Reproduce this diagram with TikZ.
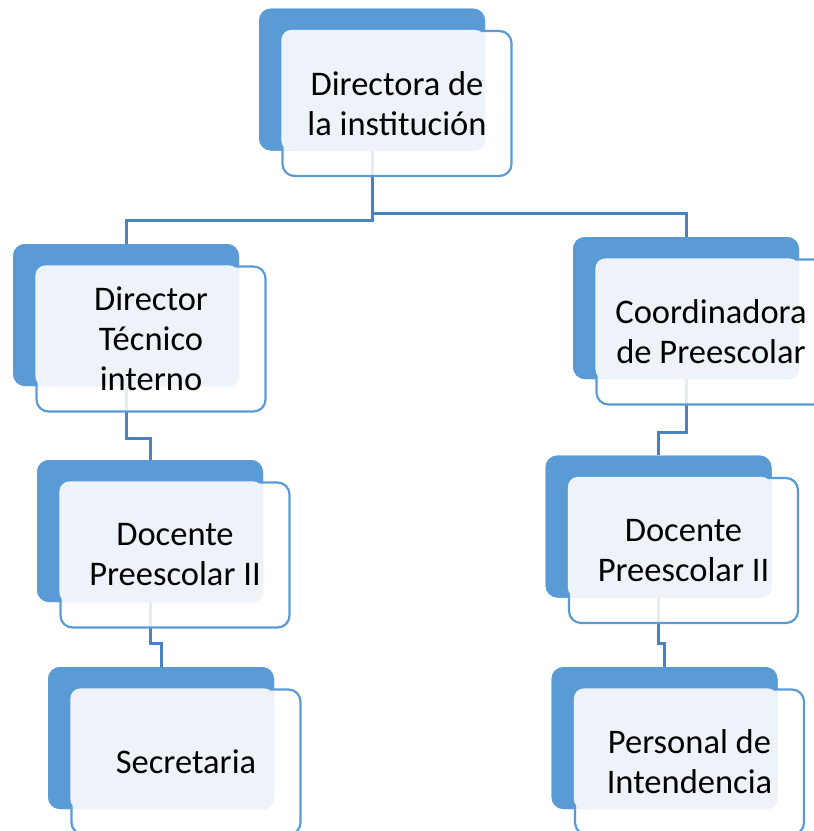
\documentclass[tikz,border=0pt]{standalone}
\usepackage{fontspec}
\setmainfont{Carlito}
\usetikzlibrary{positioning, calc}
\definecolor{boxblue}{HTML}{5B9BD5}
\definecolor{paleblue}{HTML}{EEF3FA}
\definecolor{lineblue}{HTML}{4A82C0}
\tikzset{
	back/.style={
		rectangle,
		fill=boxblue,
		rounded corners=12pt,
		minimum width=226pt,
		minimum height=142pt,
		inner sep=0pt,
	},
	front/.style={
		rectangle,
		draw=boxblue,
		line width=2.2pt,
		fill=white,
		fill opacity=0.85,
		rounded corners=12pt,
		minimum width=229pt,
		minimum height=145pt,
		inner sep=0pt,
	},
	pale/.style={
		fill=paleblue,
		rounded corners=10pt,
	},
	boxtext/.style={
		text=black,
		align=center,
		font=\fontsize{34.5}{40}\selectfont,
		inner sep=0pt,
	},
	conn/.style={
		draw=lineblue,
		line width=3pt,
	},
}

\begin{document}
\begin{tikzpicture}[x=1pt, y=-1pt]
		
		\useasboundingbox (0,0) rectangle (814,831);
		\clip (0,0) rectangle (814,831);
		
		% back boxes
		\node [back] (dirB) at (372,79.5) {};
		\node [back] (dtB) at (126,315) {};
		\node [back] (coB) at (686,308) {};
		\node [back] (dp1B) at (150,531) {};
		\node [back] (dp2B) at (658.5,526.5) {};
		\node [back] (secB) at (161,738) {};
		\node [back] (inB) at (664.5,738) {};
		
		% connectors
		\draw [conn] (dirB.south) -- ++(0,70) -| (dtB.north);
		\draw [conn] (dirB.south) ++(0,63) -| (coB.north);
		\draw [conn] (dtB.south) -- ++(0,52) -| (dp1B.north);
		\draw [conn] (coB.south) -- ++(0,53) -| (dp2B.north);
		\draw [conn] (dp1B.south) -- ++(0,41) -| (secB.north);
		\draw [conn] (dp2B.south) -- ++(0,46) -| (inB.north);
		
		% top
		\node [back] at (dirB) {};
		\node [front] (dirF) at ([shift={(25,24)}]dirB.center) {};
		\fill [pale] (dirF.north west) rectangle (dirB.south east);
		\node [boxtext] (dirT) at (dirF) {Directora de\\la institución};
		
		% left column
		\node [back] at (dtB) {};
		\node [front] (dtF) at ([shift={(25,24)}]dtB.center) {};
		\fill [pale] (dtF.north west) rectangle (dtB.south east);
		\node [boxtext] (dtT) at (dtF) {Director\\Técnico\\interno};
		
		\node [back] at (dp1B) {};
		\node [front] (dp1F) at ([shift={(25,24)}]dp1B.center) {};
		\fill [pale] (dp1F.north west) rectangle (dp1B.south east);
		\node [boxtext] (dp1T) at (dp1F) {Docente\\Preescolar II};
		
		\node [back] at (secB) {};
		\node [front] (secF) at ([shift={(25,24)}]secB.center) {};
		\fill [pale] (secF.north west) rectangle (secB.south east);
		\node [boxtext] (secT) at (secF) {Secretaria};
		
		% right column
		\node [back] at (coB) {};
		\node [front] (coF) at ([shift={(25,24)}]coB.center) {};
		\fill [pale] (coF.north west) rectangle (coB.south east);
		\node [boxtext] (coT) at (coF) {Coordinadora\\de Preescolar};
		
		\node [back] at (dp2B) {};
		\node [front] (dp2F) at ([shift={(25,24)}]dp2B.center) {};
		\fill [pale] (dp2F.north west) rectangle (dp2B.south east);
		\node [boxtext] (dp2T) at (dp2F) {Docente\\Preescolar II};
		
		\node [back] at (inB) {};
		\node [front] (inF) at ([shift={(25,24)}]inB.center) {};
		\fill [pale] (inF.north west) rectangle (inB.south east);
		\node [boxtext] (inT) at (inF) {Personal de\\Intendencia};
	\end{tikzpicture}
\end{document}
